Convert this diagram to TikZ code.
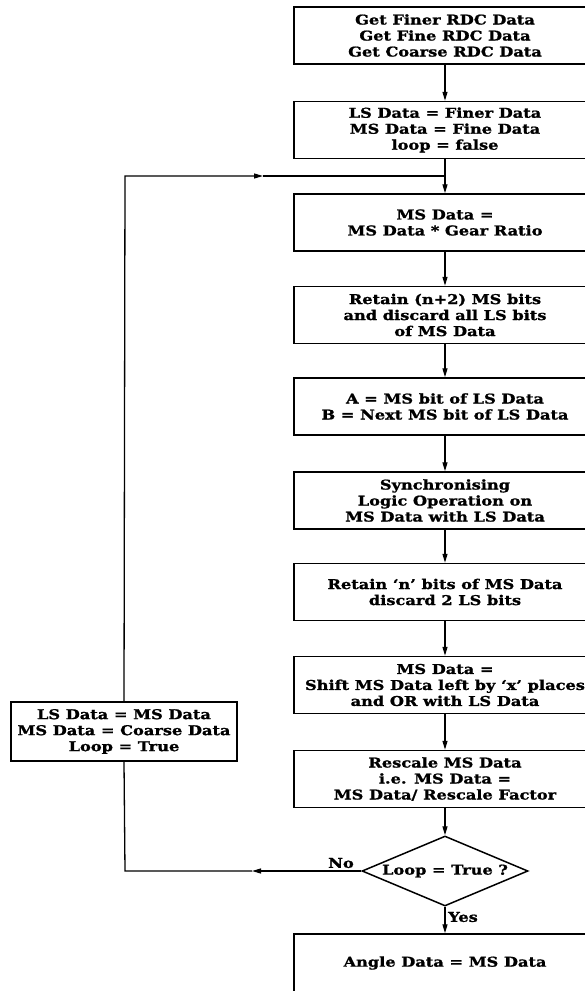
\documentclass[tikz,border=0pt]{standalone}
\usepackage{fontspec}
\setmainfont{DejaVu Serif}[FakeStretch=1.2,BoldFeatures={FakeStretch=1.2,FakeBold=1.2}]
\usetikzlibrary{arrows.meta,shapes.geometric}
\begin{document}
\begin{tikzpicture}[x=1pt,y=-1pt,
  every node/.style={font=\fontsize{13.5}{16}\bfseries\selectfont},
  procbox/.style={draw,line width=1.5pt,align=center,inner sep=0pt,minimum width=302pt,minimum height=57pt},
  loopbox/.style={draw,line width=1.5pt,align=center,inner sep=0pt,minimum width=226pt,minimum height=59pt},
  decbox/.style={draw,diamond,line width=1.5pt,align=center,inner sep=0pt,minimum width=166pt,minimum height=70pt,aspect=2.4},
  conn/.style={line width=1.3pt},
  arr/.style={line width=1.3pt,-{Triangle[length=9pt,width=5pt]}},
  lbl/.style={inner sep=0pt}
]
\useasboundingbox (0,0) rectangle (585,991);
\clip (0,0) rectangle (585,991);
\node[procbox] (b1) at (445,35.5) {Get Finer RDC Data\\Get Fine RDC Data\\Get Coarse RDC Data};
\node[procbox] (b2) at (445,130) {LS Data = Finer Data\\MS Data = Fine Data\\loop = false};
\node[procbox] (b3) at (445,222.5) {MS Data =\\MS Data * Gear Ratio};
\node[procbox] (b4) at (445,315) {Retain (n+2) MS bits\\and discard all LS bits\\of MS Data};
\node[procbox] (b5) at (445,406.5) {A = MS bit of LS Data\\B = Next MS bit of LS Data};
\node[procbox] (b6) at (445,500.5) {Synchronising\\Logic Operation on\\MS Data with LS Data};
\node[procbox] (b7) at (445,592) {Retain `n' bits of MS Data\\discard 2 LS bits};
\node[procbox] (b8) at (445,685) {MS Data =\\Shift MS Data left by `x' places\\and OR with LS Data};
\node[procbox] (b9) at (445,779) {Rescale MS Data\\i.e. MS Data =\\MS Data/ Rescale Factor};
\node[decbox] (d) at (445,871) {Loop = True ?};
\node[procbox,minimum height=58pt] (b10) at (445,963) {Angle Data = MS Data};
\node[loopbox] (lb) at (124,731.5) {LS Data = MS Data\\MS Data = Coarse Data\\Loop = True};
\node[lbl] (no) at (341,863) {No};
\node[lbl] (yes) at (463,917) {Yes};
\coordinate (j) at (445,176);
\coordinate (tl) at (125,176);
\coordinate (bl) at (125,871);
\coordinate (ta) at (263,176);
\coordinate (na) at (252,871);
\draw[arr] (b1) -- (b2);
\draw[conn] (b2) -- (j);
\draw[arr] (j) -- (b3);
\draw[arr] (b3) -- (b4);
\draw[arr] (b4) -- (b5);
\draw[arr] (b5) -- (b6);
\draw[arr] (b6) -- (b7);
\draw[arr] (b7) -- (b8);
\draw[arr] (b8) -- (b9);
\draw[arr] (b9) -- (d);
\draw[arr] (d) -- (b10);
\draw[arr] (d.west) -- (na);
\draw[conn] (na) -- (bl) -- (lb.south);
\draw[arr] (lb.north) -- (tl) -- (ta);
\draw[conn] (ta) -- (j);
\end{tikzpicture}
\end{document}
